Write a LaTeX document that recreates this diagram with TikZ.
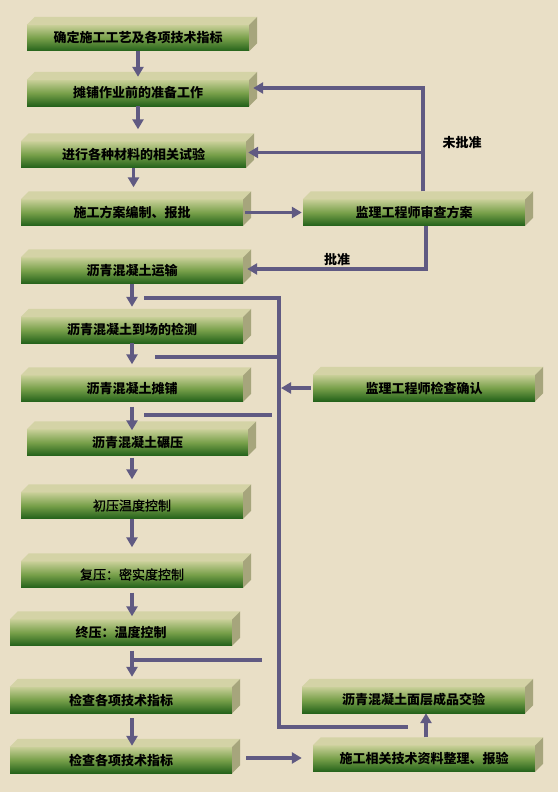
\documentclass[tikz,border=0pt]{standalone}
\usepackage{fontspec}
\newfontfamily\cjk{Noto Sans CJK SC}
\newfontfamily\cjkmid{Noto Sans CJK SC}[FakeBold=1.2]
\usetikzlibrary{arrows.meta}
\definecolor{bg}{RGB}{233,223,198}
\definecolor{lncol}{RGB}{96,90,130}
\definecolor{ftop}{RGB}{200,207,152}
\definecolor{fmid}{RGB}{120,160,74}
\definecolor{fbot}{RGB}{36,98,26}
\definecolor{tface}{RGB}{212,211,166}
\definecolor{rface}{RGB}{166,165,124}
\newcommand\cubefaces[1]{%
  \fill[tface] (#1.north west) -- ++(8,-8) -- ([shift={(8,-8)}]#1.north east) -- (#1.north east) -- cycle;
  \fill[rface] (#1.north east) -- ++(8,-8) -- ([shift={(8,-8)}]#1.south east) -- (#1.south east) -- cycle;}
\begin{document}
\begin{tikzpicture}[x=1pt,y=-1pt,
  fbox/.style={rectangle, inner sep=0pt, minimum height=26pt, minimum width=#1,
    top color=ftop, bottom color=fbot, middle color=fmid,
    font=\cjk\bfseries\fontsize{13}{13}\selectfont, text=black},
  fbox/.default=222pt,
  midtext/.style={font=\cjkmid\fontsize{13}{13}\selectfont},
  arr/.style={draw=lncol, line width=3.5pt, -{Triangle[length=10pt,width=11pt]}},
  wire/.style={draw=lncol, line width=3.5pt, line join=miter},
  lab/.style={font=\cjk\bfseries\fontsize{13}{13}\selectfont, text=black}]
\fill[bg] (0,0) rectangle (558,792);
\useasboundingbox (0,0) rectangle (558,792);

% left column
\node[fbox=222pt] (b1) at (138,38) {确定施工工艺及各项技术指标};
\node[fbox=222pt] (b2) at (138,93) {摊铺作业前的准备工作};
\node[fbox=225pt] (b3) at (133.5,154.5) {进行各种材料的相关试验};
\node[fbox] (b4) at (132,212.5) {施工方案编制、报批};
\node[fbox] (b5) at (132,270.5) {沥青混凝土运输};
\node[fbox] (b6) at (132,330) {沥青混凝土到场的检测};
\node[fbox] (b7) at (132,388.5) {沥青混凝土摊铺};
\node[fbox=221pt] (b8) at (137.5,442.5) {沥青混凝土碾压};
\node[fbox, midtext] (b9) at (132,505.5) {初压温度控制};
\node[fbox, midtext] (b10) at (132,574.5) {复压：密实度控制};
\node[fbox] (b11) at (121,632.5) {终压：温度控制};
\node[fbox] (b12) at (121,700) {检查各项技术指标};
\node[fbox] (b13) at (121,760) {检查各项技术指标};
% right column
\node[fbox] (s1) at (414,212.5) {监理工程师审查方案};
\node[fbox] (s2) at (424,388) {监理工程师检查确认};
\node[fbox=223pt] (s3) at (413.5,700) {沥青混凝土面层成品交验};
\node[fbox] (s4) at (424,758.5) {施工相关技术资料整理、报验};

\foreach \n in {b1,b2,b3,b4,b5,b6,b7,b8,b9,b10,b11,b12,b13,s1,s2,s3,s4} {\cubefaces{\n}}

% main vertical flow
\draw[arr] (b1.south) -- ([yshift=3pt]b2.north);
\draw[arr] (b2.south) -- ([yshift=12pt]b2.south |- b3.north);
\draw[arr] (b3.south) -- ([yshift=12pt]b3.south |- b4.north);
\draw[arr] ([xshift=2pt]b4.east) -- ([xshift=-1pt]s1.west);
\draw[arr] (b5.south) -- ([yshift=10pt]b6.north);
\draw[arr] (b6.south) -- ([yshift=11pt]b7.north);
\draw[arr] ([yshift=-5pt]b7.south) -- ([yshift=-1pt]b7.south |- b8.north);
\draw[arr] ([yshift=-2pt]b7.south |- b8.south) -- ([yshift=13pt]b7.south |- b9.north);
\draw[arr] (b9.south) -- ([yshift=14pt]b10.north);
\draw[arr] ([yshift=-5pt]b10.south) -- ([yshift=3pt]b10.south |- b11.north);
\draw[arr] ([yshift=-5pt]b10.south |- b11.south) -- ([yshift=10pt]b10.south |- b12.north);
\draw[arr] ([yshift=-5pt]b10.south |- b12.south) -- ([yshift=1pt]b10.south |- b13.north);

% approval loop
\coordinate (v1) at ([xshift=9pt,yshift=8pt]s1.north);
\coordinate (t2) at ([xshift=4pt,yshift=5pt]b2.east);
\coordinate (t3) at ([xshift=2pt,yshift=2pt]b3.east);
\draw[arr] (v1) |- (t2);
\draw[arr] (v1 |- t3) -- (t3);
\node[lab] (l1) at (462,143) {未批准};
\coordinate (v2) at ([xshift=12pt]s1.south);
\coordinate (t5) at ([xshift=4pt,yshift=1.5pt]b5.east);
\draw[arr] (v2) |- (t5);
\node[lab] (l2) at (337,260) {批准};

% supervision bus
\coordinate (bs) at (144,298);
\coordinate (vb) at (279,298);
\coordinate (be) at (408,727);
\draw[wire] (bs) -- (vb) -- (vb |- be) -- (be);
\coordinate (w2) at (155,357);
\draw[wire] (w2) -- (vb |- w2);
\coordinate (w3a) at (144,415);
\coordinate (w3b) at (272,415);
\draw[wire] (w3a) -- (w3b);
\coordinate (w4b) at (262,660);
\draw[wire] (b10.south |- w4b) -- (w4b);
\draw[arr] ([xshift=-2pt]s2.west) -- ([xshift=2pt]vb |- s2.west);

% final steps
\coordinate (e13) at ([xshift=14pt,yshift=2pt]b13.east);
\draw[arr] (e13) -- ([xshift=-11pt]s4.west |- e13);
\draw[arr] ([xshift=2pt,yshift=8pt]s4.north) -- ([xshift=2pt]s4.north |- s3.south);
\end{tikzpicture}
\end{document}
